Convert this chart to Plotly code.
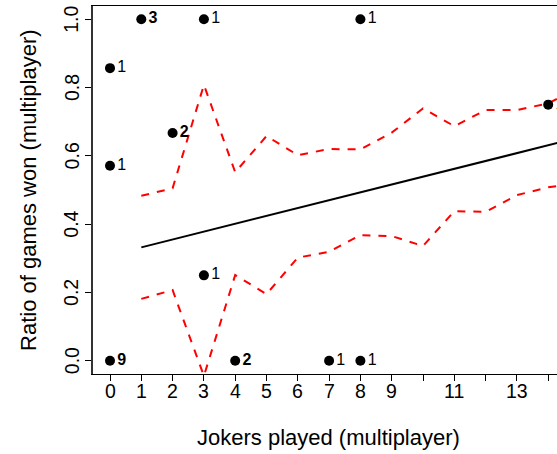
import plotly.graph_objects as go

# ---- data ----
pts_x = [0, 0, 0, 1, 2, 3, 3, 4, 7, 8, 8, 14]
pts_y = [0.857, 0.571, 0.0, 1.0, 0.667, 1.0, 0.25, 0.0, 0.0, 0.0, 1.0, 0.75]
counts = [1, 1, 9, 3, 2, 1, 1, 2, 1, 1, 1, 1]

fit_x = [1, 15]
fit_y = [0.332, 0.654]

band_x = [1, 2, 3, 4, 5, 6, 7, 8, 9, 10, 11, 12, 13, 14, 15]
upper = [0.483, 0.505, 0.808, 0.552, 0.658, 0.602, 0.620, 0.619, 0.668,
         0.739, 0.687, 0.734, 0.734, 0.754, 0.800]
lower = [0.181, 0.207, -0.045, 0.251, 0.195, 0.302, 0.319, 0.368, 0.365,
         0.336, 0.438, 0.436, 0.485, 0.508, 0.520]

x_ticks = list(range(0, 15))
x_ticktext = ["0", "1", "2", "3", "4", "5", "6", "7", "8", "9", "", "11", "", "13", ""]
y_ticks = [0.0, 0.2, 0.4, 0.6, 0.8, 1.0]
y_ticktext = ["0.0", "0.2", "0.4", "0.6", "0.8", "1.0"]

FONT = "Liberation Sans, Arial, sans-serif"
TICK_SIZE = 19.5

labels = [("<b>%d</b>" % c) if c > 1 else str(c) for c in counts]

fig = go.Figure()
fig.add_trace(go.Scatter(x=band_x, y=upper, mode="lines",
                         line=dict(color="#ff0000", width=2, dash="8px,8px")))
fig.add_trace(go.Scatter(x=band_x, y=lower, mode="lines",
                         line=dict(color="#ff0000", width=2, dash="8px,8px")))
fig.add_trace(go.Scatter(x=fit_x, y=fit_y, mode="lines",
                         line=dict(color="black", width=2)))
fig.add_trace(go.Scatter(x=pts_x, y=pts_y, mode="markers+text",
                         marker=dict(color="black", size=10),
                         text=labels, textposition="middle right",
                         textfont=dict(family=FONT, size=16, color="black"),
                         cliponaxis=False))

annotations = [
    dict(text="Jokers played (multiplayer)", xref="paper", yref="paper",
         x=0.5086, y=-0.1739, xanchor="center", yanchor="middle",
         showarrow=False, font=dict(family=FONT, size=22, color="black")),
    dict(text="Ratio of games won (multiplayer)", xref="paper", yref="paper",
         x=-0.1401, y=0.5, xanchor="center", yanchor="middle", textangle=-90,
         showarrow=False, font=dict(family=FONT, size=22, color="black")),
]
for v, t in zip(x_ticks, x_ticktext):
    if t:
        annotations.append(dict(text=t, xref="x", yref="paper", x=v, y=-0.0454,
                                xanchor="center", yanchor="middle", showarrow=False,
                                font=dict(family=FONT, size=TICK_SIZE, color="black")))
for v, t in zip(y_ticks, y_ticktext):
    annotations.append(dict(text=t, xref="paper", yref="y", x=-0.0463, y=v,
                            xanchor="center", yanchor="middle", textangle=-90,
                            showarrow=False,
                            font=dict(family=FONT, size=TICK_SIZE, color="black")))

fig.update_layout(
    width=557, height=454,
    margin=dict(l=93, r=0, t=6, b=80),
    paper_bgcolor="white", plot_bgcolor="white",
    showlegend=False,
    font=dict(family=FONT, color="black"),
    xaxis=dict(range=[-0.543, 14.281], tickvals=x_ticks, showticklabels=False,
               ticks="outside", ticklen=6, tickcolor="black", tickwidth=1,
               showline=True, linecolor="black", linewidth=1, mirror=True,
               showgrid=False, zeroline=False),
    yaxis=dict(range=[-0.039, 1.039], tickvals=y_ticks, showticklabels=False,
               ticks="outside", ticklen=6, tickcolor="black", tickwidth=1,
               showline=True, linecolor="#333", linewidth=1.5,
               showgrid=False, zeroline=False),
    annotations=annotations,
)

fig.write_html("out.html")
